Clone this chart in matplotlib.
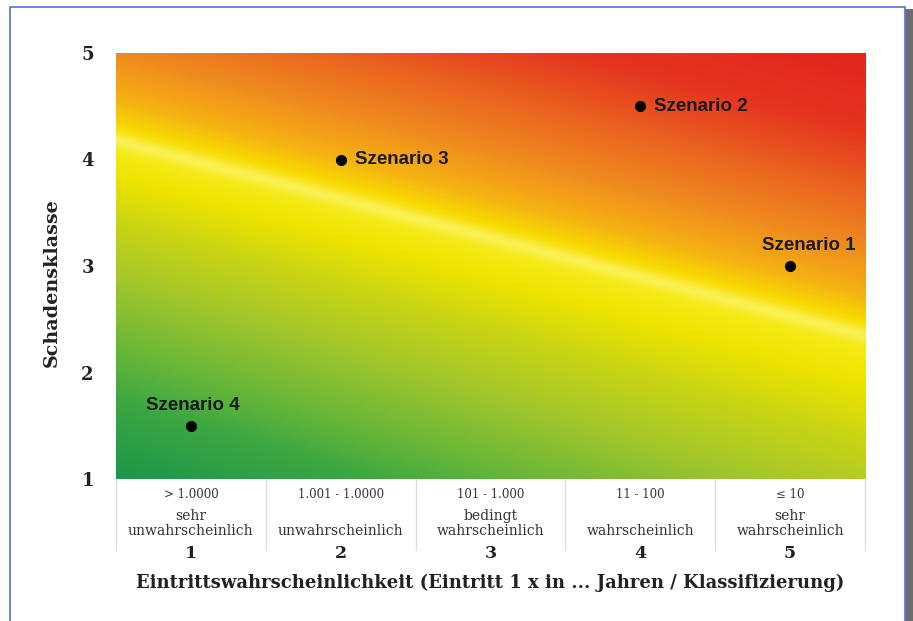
import matplotlib
matplotlib.use("Agg")
import matplotlib.pyplot as plt
import matplotlib.patches as mpatches
from matplotlib.colors import LinearSegmentedColormap, to_rgb
import numpy as np

# data
klassen = [1, 2, 3, 4, 5]
bereiche = ["> 1.0000", "1.001 - 1.0000", "101 - 1.000", "11 - 100", "\u2264 10"]
beschreibung = ["sehr\nunwahrscheinlich", "\nunwahrscheinlich", "bedingt\nwahrscheinlich",
                "\nwahrscheinlich", "sehr\nwahrscheinlich"]
szenarien = ["Szenario 1", "Szenario 2", "Szenario 3", "Szenario 4"]
szen_x = [5, 4, 2, 1]
szen_y = [3, 4.5, 4, 1.5]
yticks = [1, 2, 3, 4, 5]

fig = plt.figure(figsize=(9.13, 6.21), dpi=100)
fig.patch.set_facecolor("white")

# frame with shadow
shadow = mpatches.Rectangle((905 / 913, 0), 8 / 913, 1 - 9 / 621, transform=fig.transFigure,
                            facecolor="#6d6d6d", edgecolor="none", zorder=-3)
fig.patches.append(shadow)
frame = mpatches.Rectangle((10 / 913, -0.02), 895 / 913, 1.02 - 7 / 621, transform=fig.transFigure,
                           facecolor="white", edgecolor="#5b7fd0", linewidth=1.3, zorder=-2)
fig.patches.append(frame)

ax = fig.add_axes([116 / 913, 1 - 479 / 621, 749 / 913, 426 / 621])
ax.set_facecolor("none")

# background gradient (green -> yellow -> red) across a diagonal band
xs = np.linspace(0.5, 5.5, 750)
ys = np.linspace(5, 1, 426)
X, Y = np.meshgrid(xs, ys)
px = (X - 0.5) * 150
py = (5 - Y) * 106.5
d = ((87 + px * 0.2604) - py) * 0.968
s = d + 40 * (px / 749 - 0.5) * np.clip(-d / 150, 0, 1)

stops = [(-360, "#16944c"), (-270, "#3ea841"), (-225, "#66b639"), (-150, "#a4c72a"),
         (-90, "#c9d414"), (-40, "#eee400"), (0, "#f8ec1c"), (12, "#f7dc00"),
         (40, "#f5b212"), (85, "#ef8a1e"), (140, "#ea6220"), (200, "#e5341f"),
         (290, "#e3221f")]
lo, hi = stops[0][0], stops[-1][0]
cmap = LinearSegmentedColormap.from_list(
    "risk", [((v - lo) / (hi - lo), to_rgb(c)) for v, c in stops])
rgb = cmap(np.clip((s - lo) / (hi - lo), 0, 1))[..., :3]
glow = 0.25 * np.exp(-(d / 8.0) ** 2)
rgb = rgb + (1 - rgb) * glow[..., None]
ax.imshow(rgb, extent=(0.5, 5.5, 1, 5), aspect="auto", interpolation="bilinear", zorder=0)

ax.set_xlim(0.5, 5.5)
ax.set_ylim(1, 5)
for sp in ax.spines.values():
    sp.set_visible(False)

# scenario points
ax.plot(szen_x, szen_y, "o", color="black", markersize=7, zorder=3)
offsets = {"Szenario 1": (19, 20, "center"), "Szenario 2": (14, 0, "left"),
           "Szenario 3": (14, 0, "left"), "Szenario 4": (2, 20, "center")}
for name, x, y in zip(szenarien, szen_x, szen_y):
    dx, dy, ha = offsets[name]
    ax.annotate(name, (x, y), xytext=(dx, dy), textcoords="offset pixels",
                ha=ha, va="center", fontsize=13.5, fontweight="bold",
                family="Liberation Sans", color="#1a1a1a", zorder=4)

# axes
ax.set_xticks([])
ax.set_yticks(yticks)
ax.set_yticklabels([str(v) for v in yticks], family="DejaVu Serif",
                   fontweight="bold", fontsize=13, color="#222222")
ax.tick_params(axis="y", length=0, pad=16)
fig.text(52 / 913, 1 - 283 / 621, "Schadensklasse", rotation=90, ha="center", va="center",
         family="DejaVu Serif", fontweight="bold", fontsize=13.8, color="#222222")

# category table below the plot
tr = ax.get_xaxis_transform()
for b in np.arange(0.5, 6, 1):
    ax.plot([b, b], [0, -71 / 426], transform=tr, color="#dcdcdc", lw=0.9, clip_on=False)
for k, r, t in zip(klassen, bereiche, beschreibung):
    ax.annotate(r, (k, 0), xycoords=tr, xytext=(0, -16), textcoords="offset pixels",
                ha="center", va="center", family="DejaVu Serif", fontsize=8.5, color="#333333")
    ax.annotate(t, (k, 0), xycoords=tr, xytext=(0, -44.5), textcoords="offset pixels",
                ha="center", va="center", family="DejaVu Serif", fontsize=10,
                color="#333333", linespacing=1.1)
    ax.annotate(str(k), (k, 0), xycoords=tr, xytext=(0, -74), textcoords="offset pixels",
                ha="center", va="center", family="DejaVu Serif", fontsize=12.5,
                fontweight="bold", color="#222222")

ax.annotate("Eintrittswahrscheinlichkeit (Eintritt 1 x in ... Jahren / Klassifizierung)",
            (3, 0), xycoords=tr, xytext=(0, -104), textcoords="offset pixels",
            ha="center", va="center", family="DejaVu Serif", fontweight="bold",
            fontsize=13, color="#222222")

fig.savefig("out.png", dpi=100)
